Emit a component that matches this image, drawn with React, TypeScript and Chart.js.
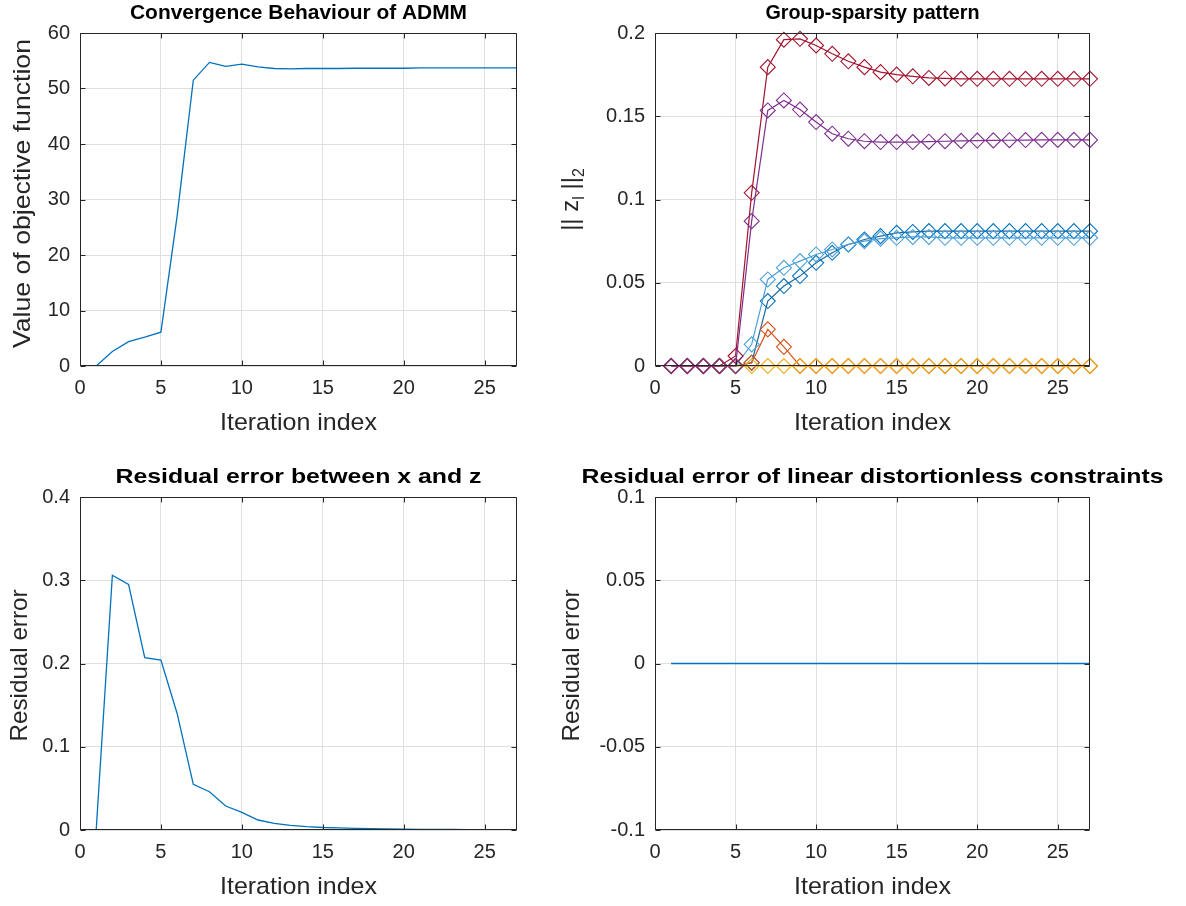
import React, { useEffect, useRef } from 'react';
import { Chart, registerables } from 'chart.js';

Chart.register(...registerables);

const FONT = "'Liberation Sans', Arial, Helvetica, sans-serif";
Chart.defaults.font.family = FONT;

// ---------- data ----------
const ITERATIONS = [1, 2, 3, 4, 5, 6, 7, 8, 9, 10, 11, 12, 13, 14, 15, 16, 17, 18, 19, 20, 21, 22, 23, 24, 25, 26, 27];

const OBJECTIVE = [0, 2.6, 4.4, 5.2, 6.1, 27, 51.5, 54.7, 54.0, 54.4, 53.9, 53.6, 53.55, 53.6, 53.6, 53.6, 53.65, 53.65, 53.65, 53.65, 53.7, 53.7, 53.7, 53.7, 53.7, 53.7, 53.7];

const RESIDUAL_XZ = [0, 0.306, 0.295, 0.207, 0.204, 0.14, 0.0548, 0.046, 0.0288, 0.0212, 0.012, 0.008, 0.0056, 0.004, 0.003, 0.0025, 0.002, 0.0015, 0.0012, 0.001, 0.0008, 0.0007, 0.0006, 0.0005, 0.0004, 0.0003, 0.0003];

const RESIDUAL_CONSTRAINT = [0, 0, 0, 0, 0, 0, 0, 0, 0, 0, 0, 0, 0, 0, 0, 0, 0, 0, 0, 0, 0, 0, 0, 0, 0, 0, 0];

const GROUP_RED = [0, 0, 0, 0, 0.006, 0.104, 0.1795, 0.196, 0.1965, 0.1925, 0.1875, 0.183, 0.1795, 0.1765, 0.175, 0.174, 0.173, 0.1727, 0.1725, 0.1725, 0.1725, 0.1725, 0.1725, 0.1725, 0.1725, 0.1725, 0.1725];
const GROUP_PURPLE = [0, 0, 0, 0, 0, 0.087, 0.1535, 0.1595, 0.154, 0.1465, 0.1395, 0.1365, 0.135, 0.1345, 0.1345, 0.1345, 0.1347, 0.135, 0.1352, 0.1354, 0.1355, 0.1356, 0.1357, 0.1358, 0.1358, 0.1358, 0.1358];
const GROUP_BLUE = [0, 0, 0, 0, 0, 0.002, 0.039, 0.048, 0.054, 0.062, 0.068, 0.073, 0.076, 0.078, 0.08, 0.0805, 0.081, 0.081, 0.081, 0.081, 0.081, 0.081, 0.081, 0.081, 0.081, 0.081, 0.081];
const GROUP_LIGHT_BLUE = [0, 0, 0, 0, 0, 0.013, 0.052, 0.059, 0.063, 0.067, 0.07, 0.073, 0.075, 0.0765, 0.077, 0.0775, 0.0775, 0.077, 0.077, 0.077, 0.077, 0.077, 0.077, 0.077, 0.077, 0.077, 0.077];
const GROUP_ORANGE = [0, 0, 0, 0, 0, 0.002, 0.022, 0.0115, 0, 0, 0, 0, 0, 0, 0, 0, 0, 0, 0, 0, 0, 0, 0, 0, 0, 0, 0];
const GROUP_YELLOW = [0, 0, 0, 0, 0, 0, 0, 0, 0, 0, 0, 0, 0, 0, 0, 0, 0, 0, 0, 0, 0, 0, 0, 0, 0, 0, 0];

const X_TICKS = [0, 5, 10, 15, 20, 25];
const OBJ_TICKS = [0, 10, 20, 30, 40, 50, 60];
const GROUP_TICKS = [0, 0.05, 0.1, 0.15, 0.2];
const RES_TICKS = [0, 0.1, 0.2, 0.3, 0.4];
const CONS_TICKS = [-0.1, -0.05, 0, 0.05, 0.1];

// ---------- helpers ----------
const AXIS_COLOR = '#262626';
const GRID_COLOR = '#dfdfdf';

const pts = (arr: number[]) => ITERATIONS.map((x, i) => ({ x, y: arr[i] }));

function plainLine(arr: number[], color: string) {
  return {
    data: pts(arr),
    borderColor: color,
    borderWidth: 1.3,
    pointRadius: 0,
    fill: false,
    tension: 0,
  };
}

function markerLine(arr: number[], lineColor: string, markerColor: string) {
  return {
    data: pts(arr),
    borderColor: lineColor,
    borderWidth: 1.2,
    pointStyle: 'rectRot',
    pointRadius: 7.5,
    pointBorderWidth: 1.1,
    pointBorderColor: markerColor,
    pointBackgroundColor: 'rgba(0,0,0,0)',
    fill: false,
    tension: 0,
    clip: false,
  };
}

type Seg = { t: string; sub?: boolean };

type Spec = {
  datasets: any[];
  yAxisWidth: number;
  xAxisHeight: number;
  padRight: number;
  padTop: number;
  yMin: number;
  yMax: number;
  yTicks: number[];
  title: string;
  titleWidth: number;
  xTitle: string;
  xTitleWidth: number;
  yTitle: Seg[];
  yTitleWidth?: number;
  yTitleOffset: number;
  yTitleShift: number;
};

function drawFitted(ctx: CanvasRenderingContext2D, text: string, x: number, y: number, target?: number) {
  const w = ctx.measureText(text).width;
  const k = target ? target / w : 1;
  ctx.save();
  ctx.translate(x, y);
  ctx.scale(k, 1);
  ctx.textAlign = 'center';
  ctx.fillText(text, 0, 0);
  ctx.restore();
}

function framePlugin(spec: Spec) {
  return {
    id: 'matlabFrame',
    afterDatasetsDraw(chart: any) {
      const { ctx, chartArea: a } = chart;
      const xs = chart.scales.x;
      const ys = chart.scales.y;
      const L = Math.round(a.left) + 0.5;
      const R = Math.round(a.right) - 0.5;
      const T = Math.round(a.top) + 0.5;
      const B = Math.round(a.bottom) - 0.5;
      const len = 5;
      ctx.save();
      ctx.strokeStyle = AXIS_COLOR;
      ctx.lineWidth = 1;
      ctx.beginPath();
      ctx.rect(L, T, R - L, B - T);
      X_TICKS.forEach((v) => {
        const px = Math.round(xs.getPixelForValue(v)) + 0.5;
        ctx.moveTo(px, B);
        ctx.lineTo(px, B - len);
        ctx.moveTo(px, T);
        ctx.lineTo(px, T + len);
      });
      spec.yTicks.forEach((v) => {
        const py = Math.round(ys.getPixelForValue(v)) + 0.5;
        ctx.moveTo(L, py);
        ctx.lineTo(L + len, py);
        ctx.moveTo(R, py);
        ctx.lineTo(R - len, py);
      });
      ctx.stroke();
      ctx.restore();
    },
    afterDraw(chart: any) {
      const { ctx, chartArea: a } = chart;
      const cx = (a.left + a.right) / 2;
      const cy = (a.top + a.bottom) / 2;
      ctx.save();
      ctx.textBaseline = 'alphabetic';
      // title
      ctx.fillStyle = '#000';
      ctx.font = `bold 21px ${FONT}`;
      drawFitted(ctx, spec.title, cx, a.top - 14, spec.titleWidth);
      // x title
      ctx.fillStyle = AXIS_COLOR;
      ctx.font = `24px ${FONT}`;
      drawFitted(ctx, spec.xTitle, cx, a.bottom + 64, spec.xTitleWidth);
      // y title (rotated, may contain subscripts)
      const mainFont = `24px ${FONT}`;
      const subFont = `16px ${FONT}`;
      let total = 0;
      const widths = spec.yTitle.map((s) => {
        ctx.font = s.sub ? subFont : mainFont;
        const w = ctx.measureText(s.t).width;
        total += w;
        return w;
      });
      const k = spec.yTitleWidth ? spec.yTitleWidth / total : 1;
      ctx.translate(a.left - spec.yTitleOffset, cy + spec.yTitleShift);
      ctx.rotate(-Math.PI / 2);
      ctx.scale(k, 1);
      ctx.textAlign = 'left';
      let x = -total / 2;
      spec.yTitle.forEach((s, i) => {
        ctx.font = s.sub ? subFont : mainFont;
        ctx.fillText(s.t, x, s.sub ? 6 : 0);
        x += widths[i];
      });
      ctx.restore();
    },
  };
}

function buildConfig(spec: Spec): any {
  return {
    type: 'line',
    data: { datasets: spec.datasets },
    options: {
      animation: false,
      responsive: false,
      devicePixelRatio: 1,
      events: [],
      layout: { padding: { left: 0, bottom: 0, right: spec.padRight, top: spec.padTop } },
      plugins: {
        legend: { display: false },
        tooltip: { enabled: false },
        title: { display: false },
      },
      scales: {
        x: {
          type: 'linear',
          min: 0,
          max: 27,
          afterBuildTicks: (s: any) => {
            s.ticks = X_TICKS.map((v) => ({ value: v }));
          },
          afterFit: (s: any) => {
            s.height = spec.xAxisHeight;
          },
          grid: { color: GRID_COLOR, lineWidth: 1, drawTicks: false },
          border: { display: false },
          ticks: {
            color: AXIS_COLOR,
            font: { size: 20, family: FONT },
            padding: 10,
            maxRotation: 0,
            autoSkip: false,
            callback: (v: number) => String(v),
          },
        },
        y: {
          type: 'linear',
          min: spec.yMin,
          max: spec.yMax,
          afterBuildTicks: (s: any) => {
            s.ticks = spec.yTicks.map((v) => ({ value: v }));
          },
          afterFit: (s: any) => {
            s.width = spec.yAxisWidth;
          },
          grid: { color: GRID_COLOR, lineWidth: 1, drawTicks: false },
          border: { display: false },
          ticks: {
            color: AXIS_COLOR,
            font: { size: 20, family: FONT },
            padding: 10,
            autoSkip: false,
            callback: (v: number) => String(Math.round(v * 10000) / 10000),
          },
        },
      },
    },
    plugins: [framePlugin(spec)],
  };
}

const BLUE = '#0072BD';

const SPECS: { spec: Spec; left: number; top: number; width: number; height: number }[] = [
  {
    left: 0,
    top: 0,
    width: 545,
    height: 453,
    spec: {
      datasets: [plainLine(OBJECTIVE, BLUE)],
      yAxisWidth: 80,
      xAxisHeight: 87,
      padRight: 28,
      padTop: 33,
      yMin: 0,
      yMax: 60,
      yTicks: OBJ_TICKS,
      title: 'Convergence Behaviour of ADMM',
      titleWidth: 337,
      xTitle: 'Iteration index',
      xTitleWidth: 157,
      yTitle: [{ t: 'Value of objective function' }],
      yTitleWidth: 309,
      yTitleOffset: 50,
      yTitleShift: -6,
    },
  },
  {
    left: 545,
    top: 0,
    width: 641,
    height: 453,
    spec: {
      datasets: [
        markerLine(GROUP_PURPLE, '#7E2F8E', '#7E2F8E'),
        markerLine(GROUP_RED, '#A2142F', '#A2142F'),
        markerLine(GROUP_YELLOW, '#EDB120', '#EDB120'),
        markerLine(GROUP_ORANGE, '#D95319', '#D95319'),
        markerLine(GROUP_LIGHT_BLUE, '#4BA0DA', '#4BA0DA'),
        markerLine(GROUP_BLUE, '#1F6A9E', '#0072BD'),
      ],
      yAxisWidth: 110,
      xAxisHeight: 87,
      padRight: 96,
      padTop: 33,
      yMin: 0,
      yMax: 0.2,
      yTicks: GROUP_TICKS,
      title: 'Group-sparsity pattern',
      titleWidth: 214,
      xTitle: 'Iteration index',
      xTitleWidth: 157,
      yTitle: [{ t: '|| z' }, { t: 'l', sub: true }, { t: ' ||' }, { t: '2', sub: true }],
      yTitleOffset: 77,
      yTitleShift: 0,
    },
  },
  {
    left: 0,
    top: 453,
    width: 545,
    height: 453,
    spec: {
      datasets: [plainLine(RESIDUAL_XZ, BLUE)],
      yAxisWidth: 80,
      xAxisHeight: 76,
      padRight: 28,
      padTop: 44,
      yMin: 0,
      yMax: 0.4,
      yTicks: RES_TICKS,
      title: 'Residual error between x and z',
      titleWidth: 366,
      xTitle: 'Iteration index',
      xTitleWidth: 157,
      yTitle: [{ t: 'Residual error' }],
      yTitleWidth: 152,
      yTitleOffset: 53,
      yTitleShift: 2,
    },
  },
  {
    left: 545,
    top: 453,
    width: 641,
    height: 453,
    spec: {
      datasets: [plainLine(RESIDUAL_CONSTRAINT, BLUE)],
      yAxisWidth: 110,
      xAxisHeight: 76,
      padRight: 96,
      padTop: 44,
      yMin: -0.1,
      yMax: 0.1,
      yTicks: CONS_TICKS,
      title: 'Residual error of linear distortionless constraints',
      titleWidth: 582,
      xTitle: 'Iteration index',
      xTitleWidth: 157,
      yTitle: [{ t: 'Residual error' }],
      yTitleWidth: 152,
      yTitleOffset: 76,
      yTitleShift: 2,
    },
  },
];

function Panel({ spec, left, top, width, height }: { spec: Spec; left: number; top: number; width: number; height: number }) {
  const ref = useRef<HTMLCanvasElement>(null);
  useEffect(() => {
    const chart = new Chart(ref.current as HTMLCanvasElement, buildConfig(spec));
    return () => chart.destroy();
  }, []);
  return (
    <canvas
      ref={ref}
      width={width}
      height={height}
      style={{ position: 'absolute', left, top, width, height }}
    />
  );
}

export default function App() {
  return (
    <div style={{ position: 'absolute', left: 0, top: 0, width: 1186, height: 906, background: '#fff' }}>
      {SPECS.map((s, i) => (
        <Panel key={i} {...s} />
      ))}
    </div>
  );
}
